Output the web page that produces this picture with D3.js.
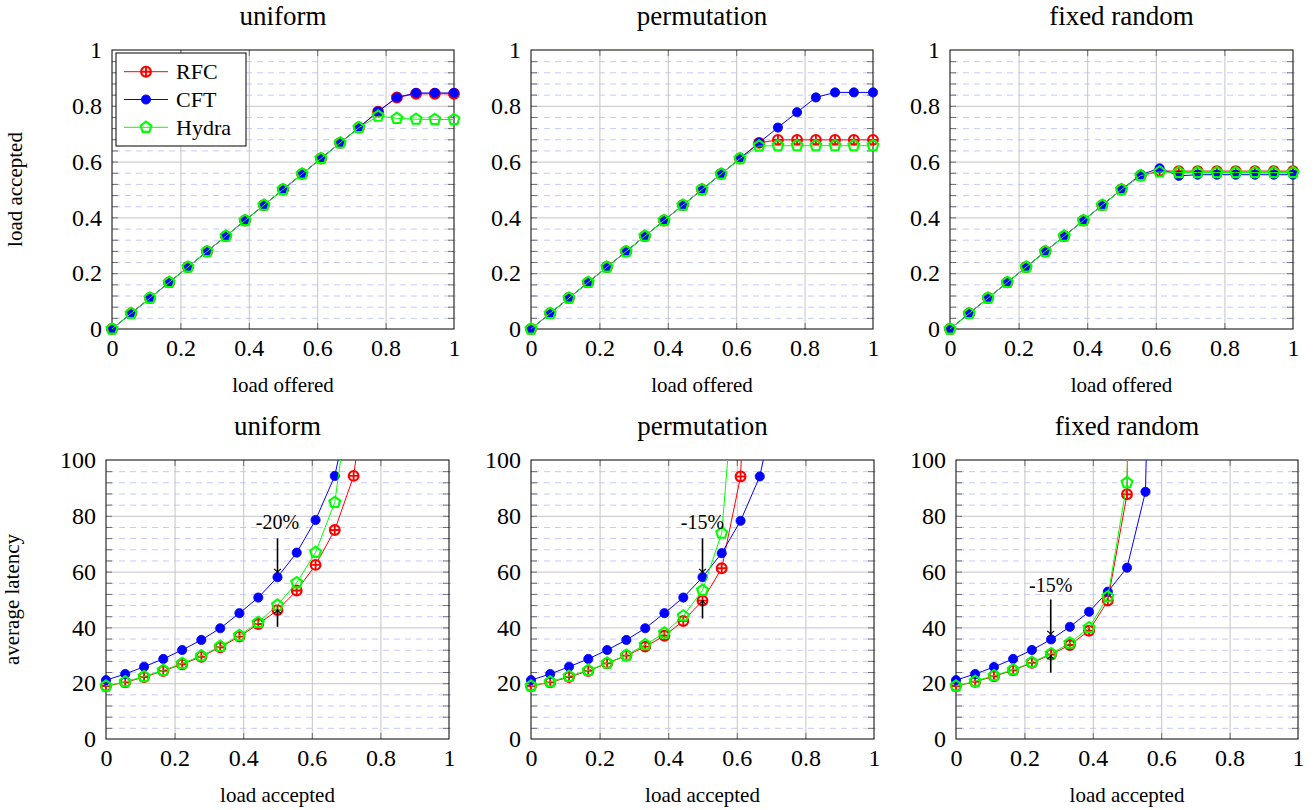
<!DOCTYPE html>
<html>
<head>
<meta charset="utf-8">
<script src="https://cdn.jsdelivr.net/npm/d3@7"></script>
<style>
  body { margin: 0; background: #fff; }
  svg text { font-family: "Liberation Serif", "Times New Roman", serif; fill: #000; }
</style>
</head>
<body>
<div id="chart"></div>
<script>
// ---- data ----
var seriesNames = ["RFC", "CFT", "Hydra"];
var xTickValues = [0, 0.2, 0.4, 0.6, 0.8, 1];
var yTicksTop = [0, 0.2, 0.4, 0.6, 0.8, 1];
var yTicksBottom = [0, 20, 40, 60, 80, 100];

// top row: load offered -> load accepted
var offered = [0, 0.056, 0.111, 0.167, 0.222, 0.278, 0.333, 0.389, 0.444, 0.5, 0.556, 0.611, 0.667, 0.722, 0.778, 0.833, 0.889, 0.944, 1];

var accUniformRFC   = [0, 0.056, 0.111, 0.167, 0.222, 0.278, 0.333, 0.389, 0.444, 0.5, 0.556, 0.611, 0.667, 0.722, 0.779, 0.830, 0.843, 0.843, 0.843];
var accUniformCFT   = [0, 0.056, 0.111, 0.167, 0.222, 0.278, 0.333, 0.389, 0.444, 0.5, 0.556, 0.611, 0.667, 0.722, 0.780, 0.830, 0.846, 0.846, 0.846];
var accUniformHydra = [0, 0.056, 0.111, 0.167, 0.222, 0.278, 0.333, 0.389, 0.444, 0.5, 0.556, 0.611, 0.667, 0.722, 0.763, 0.755, 0.752, 0.751, 0.751];

var accPermRFC   = [0, 0.056, 0.111, 0.167, 0.222, 0.278, 0.333, 0.389, 0.444, 0.5, 0.556, 0.611, 0.667, 0.678, 0.678, 0.678, 0.678, 0.678, 0.678];
var accPermCFT   = [0, 0.056, 0.111, 0.167, 0.222, 0.278, 0.333, 0.389, 0.444, 0.5, 0.556, 0.611, 0.668, 0.722, 0.777, 0.830, 0.848, 0.848, 0.848];
var accPermHydra = [0, 0.056, 0.111, 0.167, 0.222, 0.278, 0.333, 0.389, 0.444, 0.5, 0.556, 0.611, 0.656, 0.657, 0.657, 0.657, 0.657, 0.657, 0.657];

var accFixedRFC   = [0, 0.056, 0.111, 0.167, 0.222, 0.278, 0.333, 0.389, 0.444, 0.5, 0.550, 0.566, 0.566, 0.566, 0.566, 0.566, 0.566, 0.566, 0.566];
var accFixedCFT   = [0, 0.056, 0.111, 0.167, 0.222, 0.278, 0.333, 0.389, 0.444, 0.5, 0.553, 0.576, 0.549, 0.553, 0.553, 0.553, 0.553, 0.553, 0.553];
var accFixedHydra = [0, 0.056, 0.111, 0.167, 0.222, 0.278, 0.333, 0.389, 0.444, 0.5, 0.550, 0.563, 0.561, 0.561, 0.561, 0.561, 0.561, 0.561, 0.561];

// bottom row: load accepted -> average latency
var latUniformRFCx   = [0, 0.056, 0.111, 0.167, 0.222, 0.278, 0.333, 0.389, 0.444, 0.5, 0.556, 0.611, 0.667, 0.722, 0.778];
var latUniformRFC    = [19.0, 20.3, 22.2, 24.4, 26.8, 29.5, 32.9, 36.7, 41.2, 46.2, 53.2, 62.4, 74.9, 94.3, 146];
var latUniformCFTx   = [0, 0.056, 0.111, 0.167, 0.222, 0.278, 0.333, 0.389, 0.444, 0.5, 0.556, 0.611, 0.667, 0.722];
var latUniformCFT    = [21.1, 23.3, 25.9, 28.7, 31.9, 35.5, 39.7, 45.1, 50.7, 58.0, 66.8, 78.5, 94.3, 126];
var latUniformHydrax = [0, 0.056, 0.111, 0.167, 0.222, 0.278, 0.333, 0.389, 0.444, 0.5, 0.556, 0.611, 0.667, 0.722];
var latUniformHydra  = [19.0, 20.5, 22.4, 24.6, 27.1, 29.8, 33.2, 37.1, 41.8, 48.0, 56.0, 66.9, 84.8, 134];

var latPermRFCx   = [0, 0.056, 0.111, 0.167, 0.222, 0.278, 0.333, 0.389, 0.444, 0.5, 0.556, 0.611, 0.63];
var latPermRFC    = [19.0, 20.3, 22.2, 24.4, 27.1, 29.9, 33.1, 37.0, 42.3, 49.6, 61.2, 94.1, 150];
var latPermCFTx   = [0, 0.056, 0.111, 0.167, 0.222, 0.278, 0.333, 0.389, 0.444, 0.5, 0.556, 0.611, 0.667, 0.722];
var latPermCFT    = [21.1, 23.3, 25.9, 28.7, 31.9, 35.5, 39.7, 45.1, 50.7, 58.0, 66.6, 78.2, 94.1, 126];
var latPermHydrax = [0, 0.056, 0.111, 0.167, 0.222, 0.278, 0.333, 0.389, 0.444, 0.5, 0.556, 0.6];
var latPermHydra  = [19.0, 20.5, 22.5, 24.6, 27.2, 30.0, 33.8, 38.0, 44.1, 53.3, 73.8, 140];

var latFixedRFCx   = [0, 0.056, 0.111, 0.167, 0.222, 0.278, 0.333, 0.389, 0.444, 0.5, 0.51];
var latFixedRFC    = [19.0, 20.5, 22.5, 24.6, 27.3, 30.3, 33.7, 38.8, 49.6, 87.7, 200];
var latFixedCFTx   = [0, 0.056, 0.111, 0.167, 0.222, 0.278, 0.333, 0.389, 0.444, 0.5, 0.554, 0.565];
var latFixedCFT    = [21.1, 23.3, 25.8, 28.7, 31.9, 35.7, 40.2, 45.6, 52.8, 61.4, 88.6, 150];
var latFixedHydrax = [0, 0.056, 0.111, 0.167, 0.222, 0.278, 0.333, 0.389, 0.444, 0.5, 0.515];
var latFixedHydra  = [19.0, 20.7, 22.7, 24.8, 27.5, 30.6, 34.4, 39.9, 51.0, 91.9, 180];

// annotations on latency panels: label, x, text centre y, down arrow, up arrow
var noteLabels = ["-20%", "-15%", "-15%"];
var noteX      = [0.5, 0.5, 0.277];
var noteTextY  = [77.9, 77.9, 55.2];
var noteDown   = [[71.9, 59.5], [71.9, 59.5], [50.0, 37.3]];
var noteUp     = [[40.2, 46.5], [43.2, 49.8], [23.8, 30.1]];

// ---- styling ----
var colors = { RFC: "#ff0000", CFT: "#0000ff", Hydra: "#00ff00" };
var serif = "'Liberation Serif', 'Times New Roman', serif";

var svg = d3.select("#chart").append("svg")
    .attr("width", 1315)
    .attr("height", 810)
    .style("font-family", serif);

var panels = [
    { title: "uniform",      x0: 112, x1: 454,  y0: 50,  y1: 329, ymax: 1,   yTicks: yTicksTop, xlabel: "load offered", ylabel: "load accepted",
      data: [[offered, accUniformRFC], [offered, accUniformCFT], [offered, accUniformHydra]] },
    { title: "permutation",  x0: 531, x1: 873,  y0: 50,  y1: 329, ymax: 1,   yTicks: yTicksTop, xlabel: "load offered",
      data: [[offered, accPermRFC], [offered, accPermCFT], [offered, accPermHydra]] },
    { title: "fixed random", x0: 950, x1: 1293, y0: 50,  y1: 329, ymax: 1,   yTicks: yTicksTop, xlabel: "load offered",
      data: [[offered, accFixedRFC], [offered, accFixedCFT], [offered, accFixedHydra]] },
    { title: "uniform",      x0: 106, x1: 449,  y0: 460, y1: 739, ymax: 100, yTicks: yTicksBottom, xlabel: "load accepted", ylabel: "average latency", note: 0,
      data: [[latUniformRFCx, latUniformRFC], [latUniformCFTx, latUniformCFT], [latUniformHydrax, latUniformHydra]] },
    { title: "permutation",  x0: 531, x1: 874,  y0: 460, y1: 739, ymax: 100, yTicks: yTicksBottom, xlabel: "load accepted", note: 1,
      data: [[latPermRFCx, latPermRFC], [latPermCFTx, latPermCFT], [latPermHydrax, latPermHydra]] },
    { title: "fixed random", x0: 956, x1: 1298, y0: 460, y1: 739, ymax: 100, yTicks: yTicksBottom, xlabel: "load accepted", note: 2,
      data: [[latFixedRFCx, latFixedRFC], [latFixedCFTx, latFixedCFT], [latFixedHydrax, latFixedHydra]] }
];

var fmt = d3.format("~g");

function pentagonPath(r)
{
    var pts = [];
    for (var i = 0; i < 5; i++) {
        var a = -Math.PI / 2 + i * 2 * Math.PI / 5;
        pts.push([r * Math.cos(a), r * Math.sin(a)]);
    }
    return "M" + pts.join("L") + "Z";
}

function drawMark(g, name, px, py)
{
    var m = g.append("g").attr("transform", "translate(" + px + "," + py + ")");
    if (name == "RFC") {
        m.append("circle").attr("r", 4.9).attr("fill", "#fff")
            .attr("stroke", colors.RFC).attr("stroke-width", 2.1);
        m.append("path").attr("d", "M-4.9,0H4.9M0,-4.9V4.9")
            .attr("stroke", colors.RFC).attr("stroke-width", 1.9);
    }
    else if (name == "CFT") {
        m.append("circle").attr("r", 4.6).attr("fill", colors.CFT)
            .attr("stroke", colors.CFT).attr("stroke-width", 0.8);
    }
    else {
        m.append("path").attr("d", pentagonPath(5.7)).attr("fill", "none")
            .attr("stroke", colors.Hydra).attr("stroke-width", 2.1);
    }
}

function arrow(g, px, yFrom, yTo)
{
    var dir = yTo > yFrom ? 1 : -1;
    g.append("line")
        .attr("x1", px).attr("x2", px)
        .attr("y1", yFrom).attr("y2", yTo)
        .attr("stroke", "#000").attr("stroke-width", 1.6);
    g.append("path")
        .attr("d", "M" + (px - 3.5) + "," + (yTo - dir * 4) + "Q" + px + "," + (yTo - dir * 1.5) + " " + px + "," + yTo
            + "Q" + px + "," + (yTo - dir * 1.5) + " " + (px + 3.5) + "," + (yTo - dir * 4))
        .attr("fill", "none").attr("stroke", "#000").attr("stroke-width", 1.1);
}

panels.forEach(function(p, pi)
{
    var g = svg.append("g");
    var w = p.x1 - p.x0, h = p.y1 - p.y0;

    var x = d3.scaleLinear().domain([0, 1]).range([p.x0, p.x1]);
    var y = d3.scaleLinear().domain([0, p.ymax]).range([p.y1, p.y0]);

    var step = p.yTicks[1] - p.yTicks[0];
    var minor = [];
    for (var k = 0; k < p.yTicks.length - 1; k++)
        for (var j = 1; j < 5; j++)
            minor.push(p.yTicks[k] + j * step / 5);

    // minor grid (dashed, light blue)
    g.append("g")
        .attr("transform", "translate(" + p.x0 + ",0)")
        .call(d3.axisLeft(y).tickValues(minor).tickSize(-w).tickFormat(""))
        .call(function(a) { a.select(".domain").remove(); })
        .selectAll("line")
        .attr("stroke", "#c8c8ff").attr("stroke-dasharray", "6,5")
        .attr("transform", "translate(2,0)");

    // major grid
    g.append("g")
        .attr("transform", "translate(" + p.x0 + ",0)")
        .call(d3.axisLeft(y).tickValues(p.yTicks.slice(1, -1)).tickSize(-w).tickFormat(""))
        .call(function(a) { a.select(".domain").remove(); })
        .selectAll("line").attr("stroke", "#c4c4c4");
    g.append("g")
        .attr("transform", "translate(0," + p.y1 + ")")
        .call(d3.axisBottom(x).tickValues(xTickValues.slice(1, -1)).tickSize(-h).tickFormat(""))
        .call(function(a) { a.select(".domain").remove(); })
        .selectAll("line").attr("stroke", "#c4c4c4");

    // inner ticks on all four sides
    var tickCol = "#6e6e6e";
    [[d3.axisLeft, p.x0], [d3.axisRight, p.x1]].forEach(function(t)
    {
        g.append("g").attr("transform", "translate(" + t[1] + ",0)")
            .call(t[0](y).tickValues(minor.concat(p.yTicks.slice(1, -1))).tickSize(-6).tickFormat(""))
            .call(function(a) { a.select(".domain").remove(); })
            .selectAll("line").attr("stroke", tickCol);
    });
    [[d3.axisBottom, p.y1], [d3.axisTop, p.y0]].forEach(function(t)
    {
        g.append("g").attr("transform", "translate(0," + t[1] + ")")
            .call(t[0](x).tickValues(xTickValues.slice(1, -1)).tickSize(-6).tickFormat(""))
            .call(function(a) { a.select(".domain").remove(); })
            .selectAll("line").attr("stroke", tickCol);
    });

    // frame
    g.append("rect")
        .attr("x", p.x0).attr("y", p.y0).attr("width", w).attr("height", h)
        .attr("fill", "none").attr("stroke", "#000").attr("stroke-width", 1);

    // tick labels
    var xa = g.append("g").attr("transform", "translate(0," + p.y1 + ")")
        .call(d3.axisBottom(x).tickValues(xTickValues).tickSize(0).tickPadding(10).tickFormat(fmt));
    var ya = g.append("g").attr("transform", "translate(" + p.x0 + ",0)")
        .call(d3.axisLeft(y).tickValues(p.yTicks).tickSize(0).tickPadding(10).tickFormat(fmt));
    [xa, ya].forEach(function(a)
    {
        a.select(".domain").remove();
        a.attr("font-family", serif).attr("font-size", 24);
        a.selectAll("text").style("font-family", serif).style("font-size", "24px").attr("fill", "#000");
    });

    // titles and axis labels
    g.append("text")
        .attr("x", (p.x0 + p.x1) / 2).attr("y", p.y0 - 25)
        .attr("text-anchor", "middle").style("font-size", "27px")
        .text(p.title);
    g.append("text")
        .attr("x", (p.x0 + p.x1) / 2).attr("y", p.y1 + 63)
        .attr("text-anchor", "middle").style("font-size", "21px")
        .text(p.xlabel);
    if (p.ylabel) {
        var ly = (p.y0 + p.y1) / 2, lx = pi == 0 ? 22 : 19;
        g.append("text")
            .attr("transform", "translate(" + lx + "," + ly + ") rotate(-90)")
            .attr("text-anchor", "middle").style("font-size", "21px")
            .text(p.ylabel);
    }

    // series
    var clipId = "clip" + pi;
    svg.append("clipPath").attr("id", clipId).append("rect")
        .attr("x", p.x0).attr("y", p.y0).attr("width", w).attr("height", h);

    var line = d3.line().x(function(d) { return x(d[0]); }).y(function(d) { return y(d[1]); });

    p.data.forEach(function(s, si)
    {
        var name = seriesNames[si];
        var pts = s[0].map(function(v, i) { return [v, s[1][i]]; });
        g.append("path")
            .datum(pts)
            .attr("clip-path", "url(#" + clipId + ")")
            .attr("d", line)
            .attr("fill", "none")
            .attr("stroke", colors[name])
            .attr("stroke-width", 1);
        pts.forEach(function(d)
        {
            if (d[1] <= p.ymax && d[0] <= 1)
                drawMark(g, name, x(d[0]), y(d[1]));
        });
    });

    // annotation
    if (p.note !== undefined) {
        var n = p.note;
        var ax = x(noteX[n]);
        g.append("text")
            .attr("x", ax).attr("y", y(noteTextY[n]))
            .attr("dy", "0.35em")
            .attr("text-anchor", "middle")
            .style("font-size", "20px").attr("fill", "#222")
            .text(noteLabels[n]);
        arrow(g, ax, y(noteDown[n][0]), y(noteDown[n][1]));
        arrow(g, ax, y(noteUp[n][0]), y(noteUp[n][1]));
    }

    // legend in first panel
    if (pi == 0) {
        var lg = g.append("g");
        lg.append("rect")
            .attr("x", 116).attr("y", 53).attr("width", 130).attr("height", 93)
            .attr("fill", "#fff").attr("stroke", "#000").attr("stroke-width", 1);
        seriesNames.forEach(function(name, i)
        {
            var cy = 71.7 + i * 27.8;
            lg.append("line")
                .attr("x1", 124).attr("x2", 168).attr("y1", cy).attr("y2", cy)
                .attr("stroke", colors[name]).attr("stroke-width", 1);
            drawMark(lg, name, 146, cy);
            lg.append("text")
                .attr("x", 176).attr("y", cy).attr("dy", "0.33em")
                .style("font-size", "22px")
                .text(name);
        });
    }
});
</script>
</body>
</html>
